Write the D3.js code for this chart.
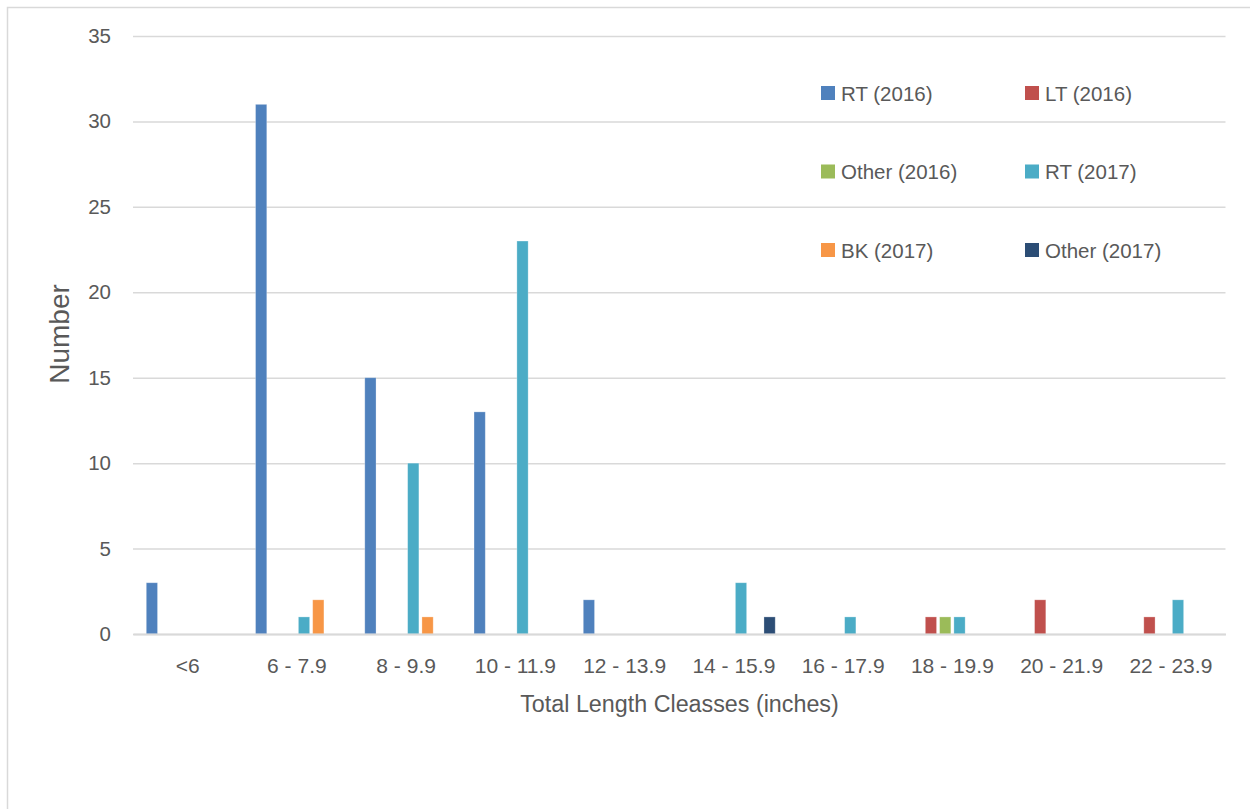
<!DOCTYPE html>
<html>
<head>
<meta charset="utf-8">
<script src="https://cdn.jsdelivr.net/npm/d3@7"></script>
<style>
  html, body { margin: 0; padding: 0; background: #fff; }
  svg { display: block; font-family: "Liberation Sans", Arial, sans-serif; }
</style>
</head>
<body>
<svg id="chart" width="1250" height="809"></svg>
<script>
// ---- data ----
const categories = ["<6", "6 - 7.9", "8 - 9.9", "10 - 11.9", "12 - 13.9", "14 - 15.9", "16 - 17.9", "18 - 19.9", "20 - 21.9", "22 - 23.9"];
const seriesNames = ["RT (2016)", "LT (2016)", "Other (2016)", "RT (2017)", "BK (2017)", "Other (2017)"];
const rt2016    = [3, 31, 15, 13, 2, 0, 0, 0, 0, 0];
const lt2016    = [0, 0, 0, 0, 0, 0, 0, 1, 2, 1];
const other2016 = [0, 0, 0, 0, 0, 0, 0, 1, 0, 0];
const rt2017    = [0, 1, 10, 23, 0, 3, 1, 1, 0, 2];
const bk2017    = [0, 2, 1, 0, 0, 0, 0, 0, 0, 0];
const other2017 = [0, 0, 0, 0, 0, 1, 0, 0, 0, 0];
const yTicks = [0, 5, 10, 15, 20, 25, 30, 35];
const colors = ["#4F81BD", "#C0504D", "#9BBB59", "#4BACC6", "#F79646", "#2C4D75"];

const seriesValues = [rt2016, lt2016, other2016, rt2017, bk2017, other2017];
const table = categories.map((c, i) => {
  const row = { category: c };
  seriesNames.forEach((s, j) => row[s] = seriesValues[j][i]);
  return row;
});

// ---- layout ----
const svg = d3.select("#chart");
const plot = { left: 133, right: 1225.5, top: 36, bottom: 634 };
const textColor = "#595959";
const gridColor = "#D9D9D9";

// outer frame (only top/left visible in the reference)
svg.append("rect")
  .attr("x", 7.5).attr("y", 7.5)
  .attr("width", 1300).attr("height", 900)
  .attr("fill", "none").attr("stroke", gridColor).attr("stroke-width", 1.5);

const x0 = d3.scaleBand().domain(categories).range([plot.left, plot.right]).paddingInner(0).paddingOuter(0);
const x1 = d3.scaleBand().domain(seriesNames).range([0, x0.bandwidth()]).paddingInner(0.2125).paddingOuter(0.93);
const y = d3.scaleLinear().domain([0, 35]).range([plot.bottom, plot.top]);
const color = d3.scaleOrdinal().domain(seriesNames).range(colors);

// gridlines
const yAxis = d3.axisLeft(y).tickValues(yTicks).tickSize(-(plot.right - plot.left)).tickPadding(22);
const gy = svg.append("g").attr("transform", `translate(${plot.left},0)`).call(yAxis);
gy.select(".domain").remove();
gy.selectAll(".tick line").attr("stroke", gridColor).attr("stroke-width", 1.5);
gy.selectAll(".tick text")
  .attr("fill", textColor).attr("font-size", "20.5px")
  .attr("font-family", "Liberation Sans, Arial, sans-serif");

// bars
const groups = svg.append("g").selectAll("g")
  .data(table).join("g")
  .attr("transform", d => `translate(${x0(d.category)},0)`);
groups.selectAll("rect")
  .data(d => seriesNames.map(k => ({ key: k, value: d[k] })).filter(e => e.value > 0))
  .join("rect")
  .attr("x", d => x1(d.key))
  .attr("width", x1.bandwidth())
  .attr("y", d => y(d.value))
  .attr("height", d => y(0) - y(d.value))
  .attr("fill", d => color(d.key))
  .attr("stroke", "rgba(255,255,255,0.35)")
  .attr("stroke-width", 0.8);

// x axis baseline + labels
const xAxis = d3.axisBottom(x0).tickSize(0).tickPadding(24);
const gx = svg.append("g").attr("transform", `translate(0,${plot.bottom})`).call(xAxis);
gx.select(".domain").attr("stroke", gridColor).attr("stroke-width", 2);
gx.selectAll(".tick text")
  .attr("fill", textColor).attr("font-size", "21px")
  .attr("font-family", "Liberation Sans, Arial, sans-serif");

// axis titles
svg.append("text")
  .attr("x", 679.5).attr("y", 711.5)
  .attr("text-anchor", "middle")
  .attr("fill", textColor).attr("font-size", "23.3px")
  .text("Total Length Cleasses (inches)");

svg.append("text")
  .attr("transform", "translate(69,334) rotate(-90)")
  .attr("text-anchor", "middle")
  .attr("fill", textColor).attr("font-size", "28px")
  .text("Number");

// legend
const legendX = [821, 1025];
const legendY = [86, 164.5, 243];
const legend = svg.append("g").selectAll("g")
  .data(seriesNames).join("g")
  .attr("transform", (d, i) => `translate(${legendX[i % 2]},${legendY[Math.floor(i / 2)]})`);
legend.append("rect")
  .attr("width", 14).attr("height", 14)
  .attr("fill", d => color(d));
legend.append("text")
  .attr("x", 20).attr("y", 14.5)
  .attr("fill", textColor).attr("font-size", "20.5px")
  .text(d => d);
</script>
</body>
</html>
